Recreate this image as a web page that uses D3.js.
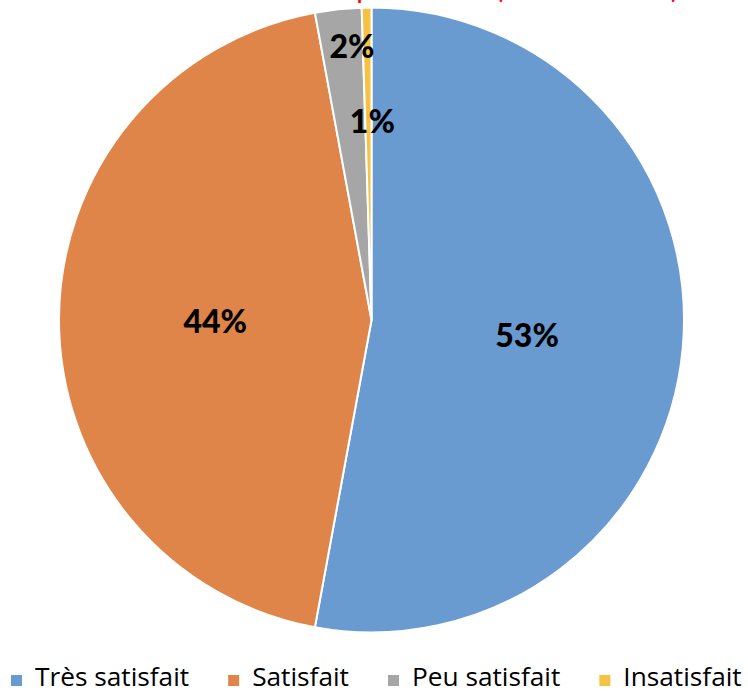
<!DOCTYPE html>
<html>
<head>
<meta charset="utf-8">
<script src="https://cdn.jsdelivr.net/npm/d3@7"></script>
<style>
  body { margin: 0; background: #fff; }
  svg { display: block; }
</style>
</head>
<body>
<div class="pie-chart"></div>
<script>
// satisfaction shares (%)
var categories = ["Très satisfait", "Satisfait", "Peu satisfait", "Insatisfait"];
var values = [52.9, 44.2, 2.4, 0.5];
var colors = ["#6A9BD0", "#DF8549", "#A6A6A6", "#F5C243"];

function drawPie() {
  var width = 748;
  var height = 693;
  var cx = 371.5;
  var cy = 320;
  var radius = 312.5;

  var svg = d3
    .select(".pie-chart")
    .append("svg")
    .attr("width", width)
    .attr("height", height);

  // title of the slide, cut by the top edge
  var title = svg.append("text")
    .attr("y", -1)
    .style("font-family", "Lato, sans-serif")
    .style("font-size", "21px")
    .style("font-weight", "bold")
    .attr("fill", "#FF0000");
  title.append("tspan")
    .attr("x", 486)
    .attr("text-anchor", "end")
    .text("Satisfaction du parcours suivi");
  title.append("tspan")
    .attr("x", 497)
    .attr("text-anchor", "start")
    .attr("textLength", 180)
    .text("(toutes les sessions)");

  var pie = d3.pie().sort(null).value(function (d) { return d; });
  var arcs = pie(values);

  var arc = d3.arc().innerRadius(0).outerRadius(radius);

  var g = svg.append("g").attr("transform", "translate(" + cx + "," + cy + ")");

  g.selectAll("path")
    .data(arcs)
    .enter()
    .append("path")
    .attr("d", arc)
    .attr("fill", function (d, i) { return colors[i]; })
    .attr("stroke", "#fff")
    .attr("stroke-width", 2)
    .attr("stroke-linejoin", "round");

  // label distance from centre, as share of radius (small slices go outward)
  var labelPos = [0.5, 0.5, 0.885, 0.64];
  var labelShift = [0, 0, 10, 4];

  g.selectAll("text.label")
    .data(arcs)
    .enter()
    .append("text")
    .attr("class", "label")
    .attr("x", function (d, i) {
      var r = radius * labelPos[i];
      var a = (d.startAngle + d.endAngle) / 2;
      return Math.sin(a) * r + labelShift[i];
    })
    .attr("y", function (d, i) {
      var r = radius * labelPos[i];
      var a = (d.startAngle + d.endAngle) / 2;
      return -Math.cos(a) * r;
    })
    .attr("text-anchor", "middle")
    .attr("dominant-baseline", "central")
    .style("font-family", "Lato, sans-serif")
    .style("font-size", "32px")
    .style("font-weight", "900")
    .attr("fill", "#000")
    .text(function (d) { return Math.round(d.data) + "%"; });

  // legend
  var legend = svg.append("g").attr("class", "legend");
  var items = legend.selectAll("g")
    .data(categories)
    .enter()
    .append("g");

  items.append("rect")
    .attr("width", 11)
    .attr("height", 11)
    .attr("y", 675)
    .attr("fill", function (d, i) { return colors[i]; });

  var labels = items.append("text")
    .attr("x", 24)
    .attr("y", 686)
    .style("font-family", "'Open Sans', sans-serif")
    .style("font-size", "22px")
    .attr("fill", "#000")
    .text(function (d) { return d; });

  // fit legend to the slide width
  var gap = 39;
  var target = 731 - 4 * 24 - 3 * gap;
  var natural = 0;
  labels.each(function () { natural += this.getComputedTextLength(); });
  labels.style("font-size", (22 * target / natural) + "px");

  var widths = [];
  labels.each(function () { widths.push(this.getComputedTextLength()); });
  var x = 11;
  items.attr("transform", function (d, i) {
    var t = "translate(" + x + ",0)";
    x += widths[i] + 24 + gap;
    return t;
  });
}

drawPie();
</script>
</body>
</html>
